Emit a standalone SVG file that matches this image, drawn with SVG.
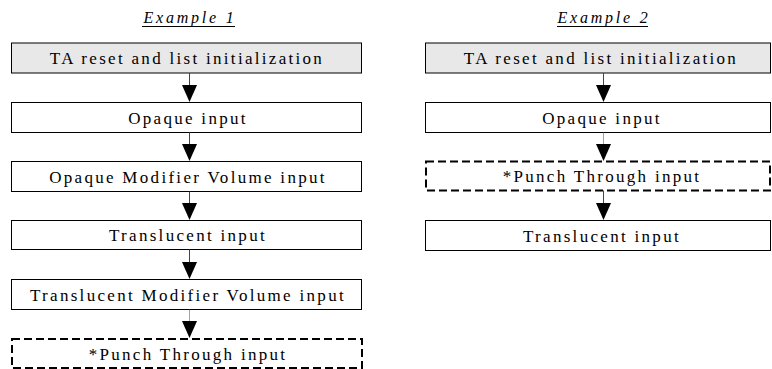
<svg xmlns="http://www.w3.org/2000/svg" width="772" height="369" viewBox="0 0 772 369">
<defs>
<style>
.box{fill:#fff;stroke:#000;stroke-width:1}
.gray{fill:#e8e8e8}
.dash{fill:#fff;stroke:#000;stroke-width:2;stroke-dasharray:8 4}
.t{font-family:"Liberation Serif","Times New Roman","DejaVu Serif",serif;font-size:17px;letter-spacing:2.3px;text-anchor:middle;fill:#000}
.title{font-family:"Liberation Serif","Times New Roman","DejaVu Serif",serif;font-size:16px;font-style:italic;letter-spacing:2.8px;text-anchor:middle;fill:#000}
.ln{stroke:#444;stroke-width:1;fill:none}
.dot{stroke:#444;stroke-width:1;stroke-dasharray:1 1;fill:none}
.head{fill:#000}
</style>
</defs>
<rect width="772" height="369" fill="#fff"/>
<g id="title1"><text class="title" x="190" y="23">Example 1</text><line x1="142" y1="26.5" x2="235" y2="26.5" stroke="#000" stroke-width="1"/></g>
<g id="title2"><text class="title" x="604" y="23">Example 2</text><line x1="557" y1="26.5" x2="648" y2="26.5" stroke="#000" stroke-width="1"/></g>

<g id="e1n1"><rect class="box gray" x="11.5" y="43" width="350" height="30"/><text class="t" x="187" y="63.5">TA reset and list initialization</text></g>
<g id="e1n2"><rect class="box" x="11.5" y="102.5" width="350" height="30"/><text class="t" x="188" y="123.5">Opaque input</text></g>
<g id="e1n3"><rect class="box" x="11.5" y="161.5" width="350" height="30"/><text class="t" x="188" y="182.5">Opaque Modifier Volume input</text></g>
<g id="e1n4"><rect class="box" x="11.5" y="220.5" width="350" height="29"/><text class="t" x="188" y="241">Translucent input</text></g>
<g id="e1n5"><rect class="box" x="11.5" y="279.5" width="350" height="30"/><text class="t" x="188" y="300.5">Translucent Modifier Volume input</text></g>
<g id="e1n6"><rect class="dash" x="12" y="339" width="350" height="29"/><text class="t" x="188" y="360">*Punch Through input</text></g>

<g id="e2n1"><rect class="box gray" x="425.5" y="43" width="345" height="30"/><text class="t" x="601" y="63.5">TA reset and list initialization</text></g>
<g id="e2n2"><rect class="box" x="425.5" y="102.5" width="345" height="30"/><text class="t" x="602" y="123.5">Opaque input</text></g>
<g id="e2n3"><rect class="dash" x="426" y="161.5" width="344" height="29"/><text class="t" x="602" y="182">*Punch Through input</text></g>
<g id="e2n4"><rect class="box" x="425.5" y="220.5" width="345" height="30"/><text class="t" x="602" y="241.5">Translucent input</text></g>

<g id="connectors">
<line class="ln" x1="189.5" y1="73" x2="189.5" y2="86"/><polygon class="head" points="182,85 197,85 189.5,102"/>
<line class="ln" x1="189.5" y1="132.5" x2="189.5" y2="145"/><polygon class="head" points="182,144 197,144 189.5,161"/>
<line class="ln" x1="189.5" y1="191.5" x2="189.5" y2="204"/><polygon class="head" points="182,203 197,203 189.5,220"/>
<line class="ln" x1="189.5" y1="249.5" x2="189.5" y2="263"/><polygon class="head" points="182,262 197,262 189.5,279"/>
<line class="dot" x1="189.5" y1="309.5" x2="189.5" y2="322"/><polygon class="head" points="182,321 197,321 189.5,338"/>
<line class="ln" x1="603.5" y1="73" x2="603.5" y2="86"/><polygon class="head" points="596,85 611,85 603.5,102"/>
<line class="dot" x1="603.5" y1="132.5" x2="603.5" y2="145"/><polygon class="head" points="596,144 611,144 603.5,161"/>
<line class="ln" x1="603.5" y1="190.5" x2="603.5" y2="204"/><polygon class="head" points="596,203 611,203 603.5,220"/>
</g>
</svg>
